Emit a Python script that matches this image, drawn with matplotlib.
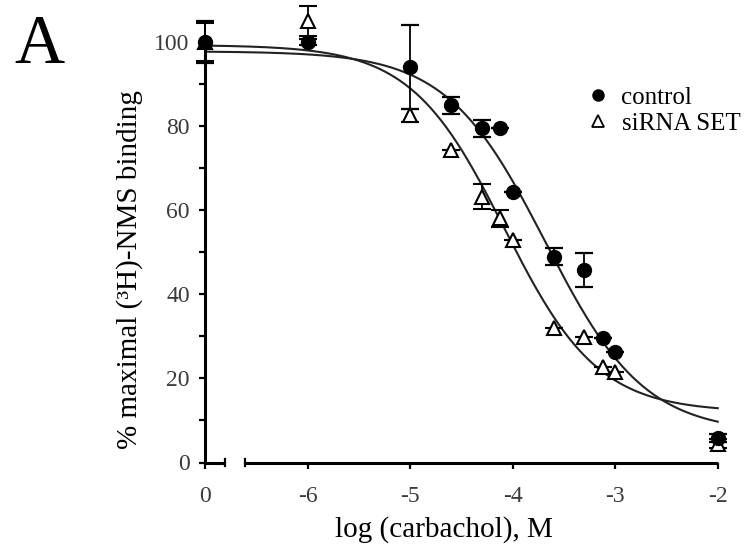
import numpy as np
import matplotlib
matplotlib.use("Agg")
import matplotlib.pyplot as plt
from matplotlib.lines import Line2D

# ---------------- data ----------------
# log [carbachol] (M); 0 means "no carbachol" (shown left of the axis break)
control_x = [0, -6, -5, -4.6, -4.3, -4.12, -4.0, -3.6, -3.3, -3.12, -3.0, -2.0]
control_y = [100, 100, 94, 85, 79.5, 79.5, 64.4, 48.9, 45.8, 29.5, 26.3, 5.8]
control_err = [5, 0.8, 10, 2, 2, 0, 0, 2, 4, 0, 0, 1]

sirna_x = [0, -6, -5, -4.6, -4.3, -4.12, -4.0, -3.6, -3.3, -3.12, -3.0, -2.0]
sirna_y = [100, 105, 82.6, 74.3, 63.2, 58.1, 52.9, 31.9, 29.9, 22.8, 21.6, 4.5]
sirna_err = [4.5, 3.5, 1.5, 0, 3, 2, 0, 0, 0, 0, 0, 1]

# four-parameter logistic fits (top, bottom, logIC50, Hill slope)
control_fit = dict(top=97.8, bottom=7.0, logic50=-3.68, hill=0.9)
sirna_fit = dict(top=99.3, bottom=12.0, logic50=-4.08, hill=0.95)

x_tick_values = [0, -6, -5, -4, -3, -2]
x_tick_labels = ["0", "-6", "-5", "-4", "-3", "-2"]
y_ticks = [0, 20, 40, 60, 80, 100]
y_minor = [10, 30, 50, 70, 90]

ZERO_POS = -7.0  # axis position used for the "0" (no agonist) point


def to_axis(x):
    x = np.asarray(x, dtype=float)
    return np.where(x == 0, ZERO_POS, x)


def logistic(x, top, bottom, logic50, hill):
    return bottom + (top - bottom) / (1 + 10 ** ((x - logic50) * hill))


plt.rcParams['font.family'] = ['Liberation Serif', 'DejaVu Serif']

fig = plt.figure(figsize=(7.48, 5.49), dpi=100)
ax = fig.add_axes([205 / 748, 86.5 / 549, 523 / 748, 462.5 / 549])
ax.set_xlim(-7, -1.9)
ax.set_ylim(0, 110)
ax.patch.set_alpha(0)

lw_axis = 2.2
for s in ['top', 'right', 'bottom']:
    ax.spines[s].set_visible(False)
ax.spines['left'].set_linewidth(lw_axis)
ax.spines['left'].set_bounds(0, 100)

# broken x axis drawn in two pieces
bx1 = 20 / 102.6
bx2 = 40 / 102.6
ax.plot([ZERO_POS, ZERO_POS + bx1], [0, 0], color='black', lw=lw_axis,
        clip_on=False, solid_capstyle='butt', zorder=3)
ax.plot([ZERO_POS + bx2, -2], [0, 0], color='black', lw=lw_axis,
        clip_on=False, solid_capstyle='butt', zorder=3)
for xb in (ZERO_POS + bx1, ZERO_POS + bx2):
    ax.plot([xb, xb], [-0.75, 0.75], color='black', lw=1.6, clip_on=False, zorder=3)

ax.set_xticks(to_axis(x_tick_values))
ax.set_xticklabels(x_tick_labels)
ax.set_yticks(y_ticks)
ax.set_yticks(y_minor, minor=True)
ax.tick_params(axis='both', which='major', direction='out', length=4, width=1.6,
               labelsize=17, labelcolor='#3a3a3a')
ax.tick_params(axis='x', which='major', pad=13)
ax.tick_params(axis='y', which='major', pad=7)
ax.tick_params(axis='y', which='minor', direction='out', length=4, width=1.6)

# fitted curves
xs = np.linspace(ZERO_POS, -2, 400)
ax.plot(xs, logistic(xs, **control_fit), color='#222222', lw=1.5, zorder=2)
ax.plot(xs, logistic(xs, **sirna_fit), color='#222222', lw=1.5, zorder=2)

# data with error bars
ax.errorbar(to_axis(control_x), control_y, yerr=control_err, fmt='o',
            color='black', ms=10, capsize=6.5, elinewidth=1.3, capthick=1.6,
            zorder=5, clip_on=False)
ax.errorbar(to_axis(sirna_x), sirna_y, yerr=sirna_err, fmt='^',
            color='black', mfc='white', mec='black', mew=1.5, ms=10,
            capsize=6.5, elinewidth=1.3, capthick=1.6, zorder=4, clip_on=False)

ax.set_xlabel("log (carbachol), M", fontsize=21)
ax.xaxis.set_label_coords((444 - 205) / 523, (462.5 - 530) / 462.5)
ax.xaxis.label.set_va('center')
ax.set_ylabel("% maximal (³H)-NMS binding", fontsize=21)
ax.yaxis.set_label_coords((130 - 205) / 523, (462.5 - 270) / 462.5)
ax.yaxis.label.set_va('center')

handles = [
    Line2D([], [], marker='o', ls='none', color='black', ms=8),
    Line2D([], [], marker='^', ls='none', mfc='white', mec='black', mew=1.3, ms=9),
]
fig.legend(handles, ["control", "siRNA SET"], loc='upper left',
           bbox_to_anchor=(589 / 748, 1 - 86 / 549), frameon=False,
           fontsize=18, handlelength=0.7, handletextpad=0.6,
           labelspacing=0.15, borderpad=0, borderaxespad=0)

fig.text(14 / 748, 1 - 63 / 549, "A", fontsize=50, ha='left', va='baseline')

fig.savefig("out.png", dpi=100)
